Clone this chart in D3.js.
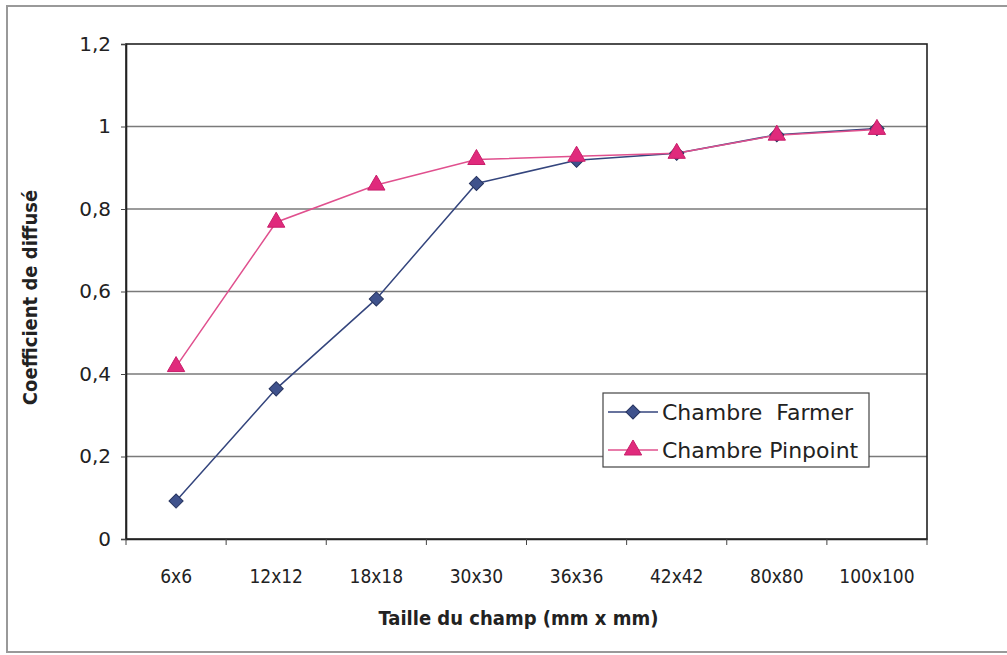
<!DOCTYPE html>
<html><head><meta charset="utf-8">
<script src="https://cdn.jsdelivr.net/npm/d3@7"></script>
<style>
html,body{margin:0;padding:0;background:#fff;}
text{font-family:"DejaVu Sans Condensed","DejaVu Sans",sans-serif;fill:#222;}
</style></head>
<body><svg id="c" width="1007" height="655"></svg>
<script>
const categories = ["6x6","12x12","18x18","30x30","36x36","42x42","80x80","100x100"];
const farmer = [0.092, 0.364, 0.582, 0.862, 0.918, 0.935, 0.980, 0.995];
const pinpoint = [0.418, 0.768, 0.858, 0.920, 0.928, 0.935, 0.979, 0.993];
const yTicks = [0, 0.2, 0.4, 0.6, 0.8, 1, 1.2];
const seriesNames = ["Chambre  Farmer", "Chambre Pinpoint"];

const svg = d3.select("#c");
const m = {l:126, r:927, t:44, b:539};
const x = d3.scaleBand().domain(categories).range([m.l, m.r]);
const y = d3.scaleLinear().domain([0, 1.2]).range([m.b, m.t]);
const fmt = d => String(d).replace(".", ",");

// outer frame
svg.append("rect").attr("x",7).attr("y",6).attr("width",1010).attr("height",646)
  .attr("fill","none").attr("stroke","#999").attr("stroke-width",2);

// gridlines
svg.append("g").selectAll("line").data(yTicks.filter(d => d > 0 && d < 1.2)).join("line")
  .attr("x1", m.l).attr("x2", m.r).attr("y1", d => y(d)).attr("y2", d => y(d))
  .attr("stroke","#7a7a7a").attr("stroke-width",1.3);

// plot border
svg.append("rect").attr("x", m.l).attr("y", m.t).attr("width", m.r - m.l).attr("height", m.b - m.t)
  .attr("fill","none").attr("stroke","#222").attr("stroke-width",1.6);

// y axis
const ya = svg.append("g").attr("transform", `translate(${m.l},0)`)
  .call(d3.axisLeft(y).tickValues(yTicks).tickFormat(fmt).tickSize(5).tickPadding(10));
ya.select(".domain").attr("stroke","#222").attr("stroke-width",1.6);
ya.selectAll(".tick line").attr("stroke","#444");
ya.selectAll("text").attr("font-size",20).attr("fill","#222").style("font-family","'DejaVu Sans',sans-serif");

// x axis
const xa = svg.append("g").attr("transform", `translate(0,${m.b})`)
  .call(d3.axisBottom(x).tickSize(0).tickPadding(31));
xa.select(".domain").attr("stroke","#222").attr("stroke-width",1.6);
xa.selectAll("text").attr("font-size",19).attr("fill","#222");
svg.append("g").selectAll("line").data(categories.concat(["_end"])).join("line")
  .attr("x1", (d,i) => m.l + i * x.bandwidth()).attr("x2", (d,i) => m.l + i * x.bandwidth())
  .attr("y1", m.b).attr("y2", m.b + 6).attr("stroke","#444");

// axis titles
svg.append("text").attr("x", (m.l + m.r) / 2 - 8).attr("y", 625).attr("text-anchor","middle")
  .attr("font-size",20).attr("font-weight","bold").text("Taille du champ (mm x mm)");
svg.append("text").attr("transform", `translate(37,${(m.t + m.b) / 2 + 6}) rotate(-90)`)
  .attr("text-anchor","middle").attr("font-size",20).attr("font-weight","bold")
  .text("Coefficient de diffusé");

const cx = d => x(d) + x.bandwidth() / 2;
const line = d3.line().x(d => cx(d[0])).y(d => y(d[1]));
const fColor = "#34457d", fFill = "#3f528c";
const pColor = "#e0508e", pFill = "#e02a7c";

svg.append("path").datum(categories.map((c,i) => [c, farmer[i]])).attr("d", line)
  .attr("fill","none").attr("stroke",fColor).attr("stroke-width",1.5);
svg.append("path").datum(categories.map((c,i) => [c, pinpoint[i]])).attr("d", line)
  .attr("fill","none").attr("stroke",pColor).attr("stroke-width",1.5);

const diamond = d3.symbol().type(d3.symbolSquare).size(100)();
const tri = d3.symbol().type(d3.symbolTriangle).size(130)();

svg.append("g").selectAll("path").data(categories.map((c,i) => [c, farmer[i]])).join("path")
  .attr("d", diamond).attr("transform", d => `translate(${cx(d[0])},${y(d[1])}) rotate(45)`)
  .attr("fill", fFill).attr("stroke","#27345f").attr("stroke-width",1);
svg.append("g").selectAll("path").data(categories.map((c,i) => [c, pinpoint[i]])).join("path")
  .attr("d", tri).attr("transform", d => `translate(${cx(d[0])},${y(d[1])})`)
  .attr("fill", pFill).attr("stroke","#c81e6a").attr("stroke-width",1);

// legend
const lg = svg.append("g");
lg.append("rect").attr("x",603).attr("y",393).attr("width",266).attr("height",74)
  .attr("fill","#fff").attr("stroke","#444").attr("stroke-width",1.2);
const rows = [
  {name: seriesNames[0], col: fColor, fill: fFill, sym: diamond, rot: 45, stroke:"#27345f"},
  {name: seriesNames[1], col: pColor, fill: pFill, sym: tri, rot: 0, stroke:"#c81e6a"}
];
rows.forEach((r, i) => {
  const yy = 412 + i * 38;
  lg.append("line").attr("x1",608).attr("x2",658).attr("y1",yy).attr("y2",yy)
    .attr("stroke", r.col).attr("stroke-width",1.5);
  lg.append("path").attr("d", r.sym).attr("transform", `translate(633,${yy}) rotate(${r.rot})`)
    .attr("fill", r.fill).attr("stroke", r.stroke);
  lg.append("text").attr("x",662).attr("y",yy).attr("dy","0.35em").attr("font-size",22)
    .style("font-family","'DejaVu Sans',sans-serif")
    .attr("xml:space","preserve").style("white-space","pre").text(r.name);
});
</script></body></html>
